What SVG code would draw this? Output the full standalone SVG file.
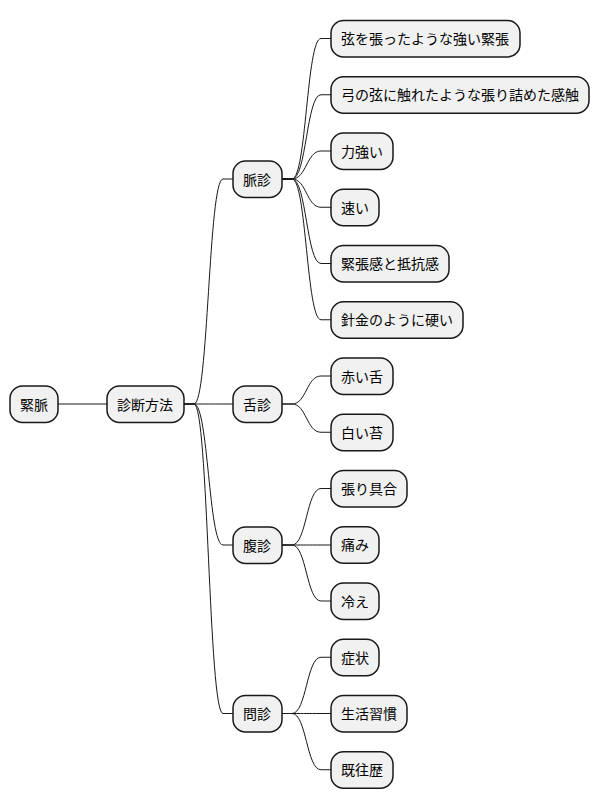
<svg xmlns="http://www.w3.org/2000/svg" width="600" height="809" viewBox="0 0 600 809">
<style>
.n rect{fill:#F1F1F1;stroke:#181818;stroke-width:1.5}
.n text{font-family:"Noto Sans CJK JP","DejaVu Sans",sans-serif;font-size:14px;fill:#000}
#edges path{fill:none;stroke:#181818;stroke-width:1}
</style>
<rect width="600" height="809" fill="#FFFFFF"/>
<g id="edges">
<path d="M58,404 L107,404"/>
<path d="M184,404 L194,404 C208.5,404 208.5,179 223,179 L233,179"/>
<path d="M184,404 L194,404 C208.5,404 208.5,404 223,404 L233,404"/>
<path d="M184,404 L194,404 C208.5,404 208.5,545 223,545 L233,545"/>
<path d="M184,404 L194,404 C208.5,404 208.5,713.5 223,713.5 L233,713.5"/>
<path d="M282,179 L292,179 C306.5,179 306.5,38.5 321,38.5 L331,38.5"/>
<path d="M282,179 L292,179 C306.5,179 306.5,94.75 321,94.75 L331,94.75"/>
<path d="M282,179 L292,179 C306.5,179 306.5,151 321,151 L331,151"/>
<path d="M282,179 L292,179 C306.5,179 306.5,207.25 321,207.25 L331,207.25"/>
<path d="M282,179 L292,179 C306.5,179 306.5,263.5 321,263.5 L331,263.5"/>
<path d="M282,179 L292,179 C306.5,179 306.5,319.75 321,319.75 L331,319.75"/>
<path d="M282,404 L292,404 C306.5,404 306.5,376 321,376 L331,376"/>
<path d="M282,404 L292,404 C306.5,404 306.5,432.25 321,432.25 L331,432.25"/>
<path d="M282,545 L292,545 C306.5,545 306.5,488.5 321,488.5 L331,488.5"/>
<path d="M282,545 L292,545 C306.5,545 306.5,545 321,545 L331,545"/>
<path d="M282,545 L292,545 C306.5,545 306.5,601 321,601 L331,601"/>
<path d="M282,713.5 L292,713.5 C306.5,713.5 306.5,657.25 321,657.25 L331,657.25"/>
<path d="M282,713.5 L292,713.5 C306.5,713.5 306.5,713.5 321,713.5 L331,713.5"/>
<path d="M282,713.5 L292,713.5 C306.5,713.5 306.5,769.75 321,769.75 L331,769.75"/>
</g>
<g id="root" class="n"><rect x="10" y="386" width="48" height="36.5" rx="12.5"/><text x="20" y="409.5">緊脈</text></g>
<g id="method" class="n"><rect x="107" y="386" width="77" height="36.5" rx="12.5"/><text x="117" y="409.5">診断方法</text></g>
<g id="pulse" class="n"><rect x="233" y="161" width="49" height="36.5" rx="12.5"/><text x="243" y="184.5">脈診</text></g>
<g id="tongue" class="n"><rect x="233" y="386" width="49" height="36.5" rx="12.5"/><text x="243" y="409.5">舌診</text></g>
<g id="abdomen" class="n"><rect x="233" y="527" width="49" height="36.5" rx="12.5"/><text x="243" y="550.5">腹診</text></g>
<g id="inquiry" class="n"><rect x="233" y="695.5" width="49" height="36.5" rx="12.5"/><text x="243" y="719">問診</text></g>
<g id="p1" class="n"><rect x="331" y="20.5" width="189" height="36.5" rx="12.5"/><text x="341" y="44">弦を張ったような強い緊張</text></g>
<g id="p2" class="n"><rect x="331" y="76.75" width="258" height="36.5" rx="12.5"/><text x="341" y="100.25">弓の弦に触れたような張り詰めた感触</text></g>
<g id="p3" class="n"><rect x="331" y="133" width="62" height="36.5" rx="12.5"/><text x="341" y="156.5">力強い</text></g>
<g id="p4" class="n"><rect x="331" y="189.25" width="48" height="36.5" rx="12.5"/><text x="341" y="212.75">速い</text></g>
<g id="p5" class="n"><rect x="331" y="245.5" width="118" height="36.5" rx="12.5"/><text x="341" y="269">緊張感と抵抗感</text></g>
<g id="p6" class="n"><rect x="331" y="301.75" width="132" height="36.5" rx="12.5"/><text x="341" y="325.25">針金のように硬い</text></g>
<g id="t1" class="n"><rect x="331" y="358" width="62" height="36.5" rx="12.5"/><text x="341" y="381.5">赤い舌</text></g>
<g id="t2" class="n"><rect x="331" y="414.25" width="62" height="36.5" rx="12.5"/><text x="341" y="437.75">白い苔</text></g>
<g id="a1" class="n"><rect x="331" y="470.5" width="76" height="36.5" rx="12.5"/><text x="341" y="494">張り具合</text></g>
<g id="a2" class="n"><rect x="331" y="526.75" width="48" height="36.5" rx="12.5"/><text x="341" y="550.25">痛み</text></g>
<g id="a3" class="n"><rect x="331" y="583" width="48" height="36.5" rx="12.5"/><text x="341" y="606.5">冷え</text></g>
<g id="i1" class="n"><rect x="331" y="639.25" width="48" height="36.5" rx="12.5"/><text x="341" y="662.75">症状</text></g>
<g id="i2" class="n"><rect x="331" y="695.5" width="76" height="36.5" rx="12.5"/><text x="341" y="719">生活習慣</text></g>
<g id="i3" class="n"><rect x="331" y="751.75" width="62" height="36.5" rx="12.5"/><text x="341" y="775.25">既往歴</text></g>
</svg>
